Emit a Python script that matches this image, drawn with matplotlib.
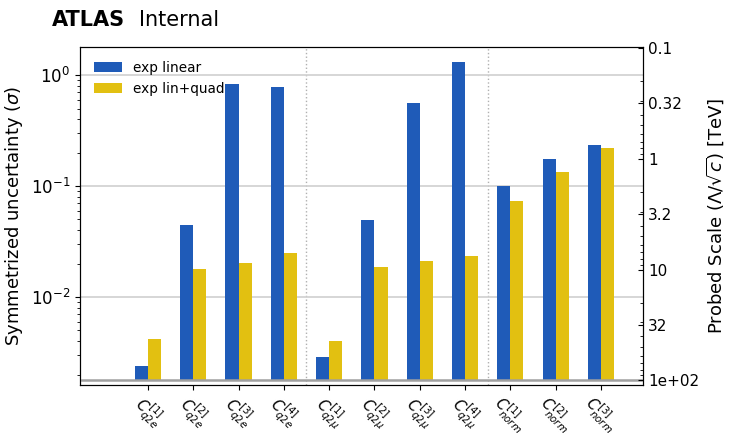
import matplotlib
matplotlib.use('Agg')
import matplotlib.pyplot as plt
from matplotlib.ticker import FixedLocator, FormatStrFormatter, NullFormatter

# Data
labels = [r'$C_{q2e}^{[1]}$', r'$C_{q2e}^{[2]}$', r'$C_{q2e}^{[3]}$', r'$C_{q2e}^{[4]}$',
          r'$C_{q2\mu}^{[1]}$', r'$C_{q2\mu}^{[2]}$', r'$C_{q2\mu}^{[3]}$', r'$C_{q2\mu}^{[4]}$',
          r'$C_{norm}^{[1]}$', r'$C_{norm}^{[2]}$', r'$C_{norm}^{[3]}$']
exp_linear = [0.00237, 0.0447, 0.840, 0.784, 0.00289, 0.0497, 0.561, 1.32, 0.100, 0.174, 0.236]
exp_linquad = [0.00419, 0.0177, 0.0202, 0.0251, 0.00401, 0.0185, 0.0212, 0.0232, 0.0738, 0.133, 0.219]
scale_ticks = [0.1, 0.316, 1, 3.16, 10, 31.6, 100]
group_edges = [3.5, 7.5]

bar_bottom = 0.00179
width = 0.29
x = list(range(len(labels)))

fig = plt.figure(figsize=(7.32, 4.36), dpi=100)
ax = fig.add_axes([0.1093, 0.117, 0.7692, 0.775])

ax.bar([i - width / 2 for i in x], [v - bar_bottom for v in exp_linear], width,
       bottom=bar_bottom, color='#1f5bb8', label='exp linear', zorder=2)
ax.bar([i + width / 2 for i in x], [v - bar_bottom for v in exp_linquad], width,
       bottom=bar_bottom, color='#e2c011', label='exp lin+quad', zorder=2)

ax.set_yscale('log')
ax.set_ylim(0.00161, 1.79)
ax.set_xlim(-1.5, 10.93)
ax.grid(axis='y', which='major', color='#d0d0d0', lw=1.2, zorder=0)
ax.axhline(bar_bottom, color='#a0a0a0', lw=1.8, zorder=3)
for xe in group_edges:
    ax.axvline(xe, color='#b0b0b0', ls=':', lw=1, zorder=1)

ax.set_xticks(x)
ax.set_xticklabels(labels, rotation=-45, fontsize=10.5)
ax.tick_params(axis='x', pad=2)
ax.tick_params(axis='y', labelsize=12)
ax.set_ylabel(r'Symmetrized uncertainty ($\sigma$)', fontsize=13)

ax.legend(loc='upper left', frameon=False, fontsize=9.8, handlelength=2.1,
          borderaxespad=0.6)

ax2 = ax.twinx()
ax2.set_yscale('log')
ax2.set_ylim(110, 0.098)
ax2.yaxis.set_major_locator(FixedLocator(scale_ticks))
ax2.yaxis.set_major_formatter(FormatStrFormatter('%.2g'))
ax2.yaxis.set_minor_formatter(NullFormatter())
ax2.tick_params(axis='y', which='both', direction='in', labelsize=11)
ax2.set_ylabel(r'Probed Scale ($\Lambda/\sqrt{c}$) [TeV]', fontsize=13)

fig.text(0.071, 0.94, 'ATLAS', fontsize=15, fontweight='bold')
fig.text(0.19, 0.94, 'Internal', fontsize=15)

fig.savefig('out.png', dpi=100)
